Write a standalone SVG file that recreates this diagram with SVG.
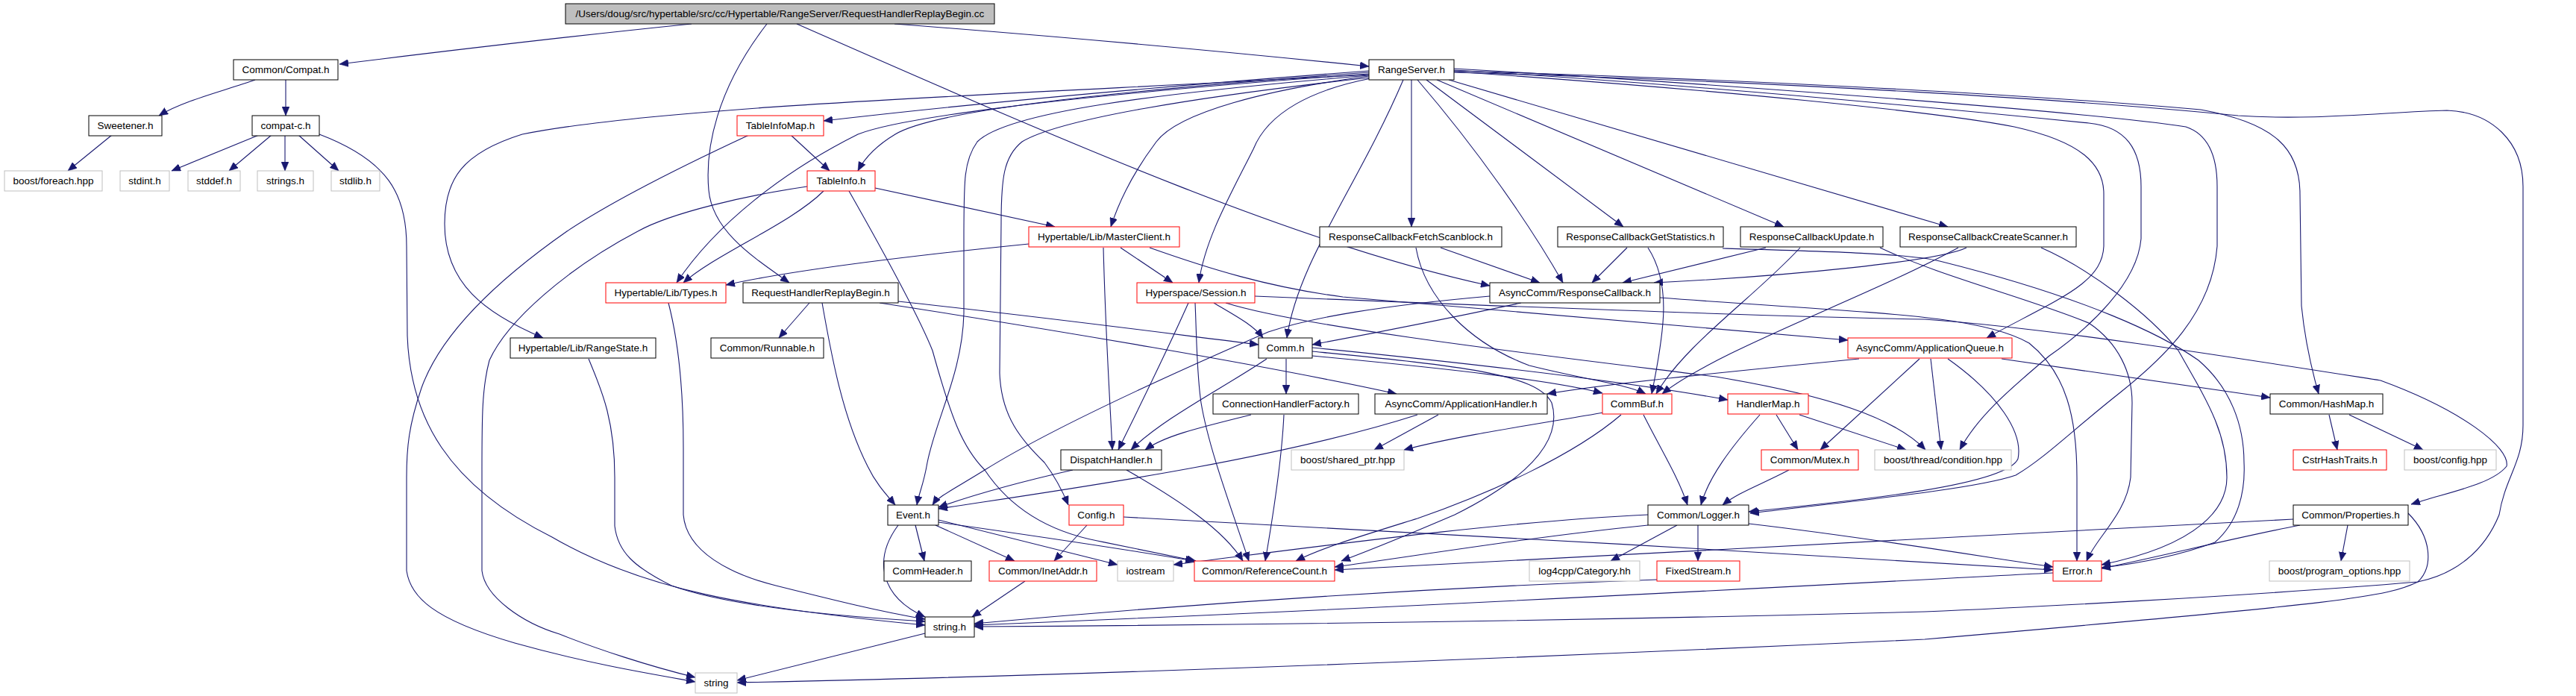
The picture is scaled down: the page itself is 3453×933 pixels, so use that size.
<svg xmlns="http://www.w3.org/2000/svg" width="3453" height="933" viewBox="0 0 3453 933">
<style>
.n rect{fill:#fff;stroke:#000;stroke-width:1}
.r rect{stroke:#f00}
.g rect{stroke:#bfbfbf}
.root rect{fill:#bfbfbf}
text{font-family:"Liberation Sans",Arial,sans-serif;font-size:13.5px;text-anchor:middle;fill:#000}
#edges path{fill:none;stroke:#191970;stroke-width:1.1;marker-end:url(#a)}
</style>
<defs>
<marker id="a" markerWidth="12" markerHeight="10" refX="12" refY="5" orient="auto" markerUnits="userSpaceOnUse"><path d="M0,0 L12,5 L0,10 z" fill="#191970" stroke="#191970" stroke-width="0.5"/></marker>
</defs>
<rect width="3453" height="933" fill="#fff"/>
<g id="edges">
<path d="M927,32 C750,50 600,68 455,86"/>
<path d="M1028,32 C960,120 945,200 950,255 C955,310 1010,345 1058,379"/>
<path d="M1068,32 C1450,200 1750,330 1997,383"/>
<path d="M1199,32 C1500,55 1700,75 1835,89"/>
<path d="M342,107 C300,122 245,135 213,155"/>
<path d="M383,107 L383,155"/>
<path d="M150,181 L91,229"/>
<path d="M347,181 L230,229"/>
<path d="M364,181 L307,229"/>
<path d="M382,181 L382,229"/>
<path d="M400,181 L454,229"/>
<path d="M428,180 C520,215 545,260 545,330 L546,450 C550,560 600,650 740,720 C860,790 1000,815 1240,838"/>
<path d="M1060,181 L1112,229"/>
<path d="M1004,181 C920,220 820,270 760,310 C660,380 590,450 565,520 C548,570 545,600 545,640 L545,765 C550,800 580,830 690,862 C790,890 870,903 932,914"/>
<path d="M1173,252 L1414,304"/>
<path d="M1104,256 C1060,300 960,340 916,379"/>
<path d="M1082,250 C1000,262 900,285 855,310 C760,360 680,430 656,483 C646,520 646,560 646,630 L646,765 C650,800 700,835 750,850 C800,870 870,893 932,908"/>
<path d="M1138,256 C1180,330 1230,420 1250,470 C1275,560 1290,600 1320,630 C1360,690 1420,715 1471,725 C1520,735 1570,745 1603,752"/>
<path d="M1835,95 C1500,120 1250,145 1104,162"/>
<path d="M1835,97 C1450,125 1250,150 1200,180 C1175,195 1160,210 1150,229"/>
<path d="M1835,99 C1400,130 1200,160 1150,180 C1050,230 960,300 907,379"/>
<path d="M1835,100 C1400,125 900,140 700,180 C620,205 596,240 596,300 C596,380 650,420 728,453"/>
<path d="M1835,102 C1700,120 1580,150 1550,190 C1520,230 1500,270 1489,304"/>
<path d="M1838,105 C1760,120 1700,150 1680,200 C1650,260 1615,320 1607,379"/>
<path d="M1835,101 C1550,125 1350,150 1310,190 C1292,215 1292,240 1292,320 L1292,420 C1290,500 1255,560 1243,620 C1238,650 1232,660 1229,677"/>
<path d="M1836,104 C1600,130 1420,160 1370,190 C1345,210 1342,240 1342,300 L1340,500 C1342,560 1370,590 1400,620 C1415,640 1425,660 1432,677"/>
<path d="M1881,107 C1820,250 1740,350 1725,453"/>
<path d="M1892,107 L1892,304"/>
<path d="M1900,107 C1980,200 2050,300 2095,379"/>
<path d="M1912,107 L2176,304"/>
<path d="M1926,107 L2391,304"/>
<path d="M1942,107 L2611,304"/>
<path d="M1949,96 C2300,120 2600,150 2700,170 C2790,190 2820,220 2820,260 L2820,330 C2818,380 2760,400 2663,453"/>
<path d="M1949,94 C2300,115 2650,150 2800,165 C2850,170 2870,200 2870,250 L2870,320 C2865,380 2800,440 2747,477 C2690,525 2650,560 2627,603"/>
<path d="M1949,92 C2300,112 2800,150 2930,170 C2960,180 2972,210 2972,250 L2972,330 C2965,420 2900,480 2841,527 C2780,575 2740,615 2702,637 C2650,655 2500,670 2346,688"/>
<path d="M1949,95 C2300,105 2700,125 2950,147 C3050,165 3083,200 3083,260 L3085,410 C3090,460 3100,500 3108,528"/>
<path d="M1949,97 C2400,110 2800,135 3000,155 C3100,162 3200,150 3280,148 C3340,150 3382,190 3382,250 L3382,570 C3382,620 3358,640 3350,690 C3330,740 3290,770 3241,780 C3000,800 2700,815 2580,820 C2200,830 1800,837 1306,840"/>
<path d="M1627,406 C1650,420 1680,435 1693,453"/>
<path d="M1593,406 C1560,480 1520,560 1499,603"/>
<path d="M1602,406 C1604,450 1604,500 1610,540 C1620,600 1650,680 1674,752"/>
<path d="M1682,397 C2000,410 2400,425 2580,428 C2750,440 3000,480 3191,510 C3300,550 3365,600 3360,625 C3340,650 3280,660 3232,676"/>
<path d="M1643,406 C1750,440 2100,480 2300,505 C2450,530 2540,560 2581,603"/>
<path d="M1379,327 C1200,345 1050,365 973,382"/>
<path d="M1502,332 L1572,379"/>
<path d="M1479,332 C1482,450 1488,540 1491,603"/>
<path d="M1541,332 C1620,360 1700,385 1800,398 C2100,425 2350,445 2477,456"/>
<path d="M1085,406 L1044,453"/>
<path d="M1204,404 C1400,425 1550,445 1687,462"/>
<path d="M1179,406 C1400,440 1700,490 1872,528"/>
<path d="M1102,406 C1115,480 1130,560 1163,625 C1175,650 1190,665 1200,677"/>
<path d="M2039,406 C1950,425 1850,445 1759,462"/>
<path d="M1997,397 C1850,410 1760,425 1700,445 C1550,510 1400,580 1320,630 C1280,655 1258,665 1250,677"/>
<path d="M2225,399 C2500,420 2650,420 2720,460 C2770,500 2784,560 2784,640 L2784,752"/>
<path d="M1931,332 L2064,379"/>
<path d="M1898,332 C1910,400 1970,460 2050,490 C2130,510 2180,515 2206,528"/>
<path d="M2181,332 L2134,379"/>
<path d="M2209,332 C2240,380 2232,440 2214,528"/>
<path d="M2309,333 C2450,337 2560,340 2600,350 C2800,400 2900,450 2947,483 C2990,520 3008,570 3008,620 C3010,660 3000,700 2969,727 C2920,745 2870,755 2817,761"/>
<path d="M2367,332 L2175,379"/>
<path d="M2413,332 C2350,400 2260,460 2220,528"/>
<path d="M2520,332 C2600,370 2720,400 2800,433 C2840,460 2858,500 2858,540 L2856,640 C2850,690 2810,720 2797,752"/>
<path d="M2636,332 C2600,350 2400,370 2217,379"/>
<path d="M2625,332 C2500,400 2300,470 2228,528"/>
<path d="M2736,332 C2800,360 2880,420 2920,470 C2960,540 2985,580 2985,640 C2985,680 2950,730 2817,757"/>
<path d="M1724,481 L1724,528"/>
<path d="M1698,481 C1640,520 1560,560 1516,603"/>
<path d="M1759,466 C2000,490 2200,515 2316,536"/>
<path d="M1759,477 C1950,495 2080,510 2148,527"/>
<path d="M1759,471 C1950,490 2060,500 2080,540 C2095,590 2050,640 1950,690 C1880,720 1830,740 1798,752"/>
<path d="M1677,556 C1600,575 1560,585 1535,603"/>
<path d="M1721,556 C1718,620 1705,700 1696,752"/>
<path d="M1928,556 L1842,603"/>
<path d="M1900,556 C1700,620 1400,660 1258,682"/>
<path d="M1438,630 C1350,650 1300,665 1258,680"/>
<path d="M1510,630 C1580,670 1640,710 1666,752"/>
<path d="M2150,553 C2050,570 1950,585 1882,603"/>
<path d="M2173,556 C2110,610 2000,660 1900,695 C1820,720 1770,735 1737,752"/>
<path d="M2203,556 C2225,600 2250,640 2262,677"/>
<path d="M2381,556 L2410,603"/>
<path d="M2412,556 L2555,603"/>
<path d="M2359,556 C2320,600 2290,640 2280,677"/>
<path d="M2492,481 C2300,500 2150,515 2074,528"/>
<path d="M2573,481 L2440,603"/>
<path d="M2588,481 L2602,603"/>
<path d="M2611,481 C2680,530 2712,580 2705,615 C2690,650 2500,670 2344,686"/>
<path d="M2683,481 L3043,533"/>
<path d="M2398,630 C2360,650 2330,660 2309,677"/>
<path d="M3122,556 L3133,603"/>
<path d="M3149,556 L3248,603"/>
<path d="M2248,704 L2159,752"/>
<path d="M2276,704 L2276,752"/>
<path d="M2209,690 C2000,700 1750,735 1573,757"/>
<path d="M2209,704 C2050,720 1900,745 1789,760"/>
<path d="M2344,702 C2500,720 2650,745 2752,760"/>
<path d="M3147,704 L3138,752"/>
<path d="M3083,704 C3000,720 2900,745 2817,762"/>
<path d="M3074,696 C2800,710 2300,740 1789,764"/>
<path d="M3228,688 C3260,720 3262,760 3241,780 C3200,800 3150,808 2580,857 C2200,875 1500,905 988,915"/>
<path d="M2221,777 C2000,785 1700,800 1306,836"/>
<path d="M2752,768 C2600,775 2000,810 1306,838"/>
<path d="M1457,704 L1413,752"/>
<path d="M1506,693 C1800,710 2400,740 2752,764"/>
<path d="M1374,779 L1303,827"/>
<path d="M1227,704 L1239,752"/>
<path d="M1254,704 L1360,752"/>
<path d="M1258,697 L1498,757"/>
<path d="M1258,700 C1400,720 1500,735 1601,752"/>
<path d="M1204,704 C1170,750 1180,800 1240,827"/>
<path d="M896,406 C910,460 916,520 916,600 L916,690 C920,740 980,770 1040,785 C1120,805 1180,820 1240,830"/>
<path d="M789,481 C805,520 824,560 824,640 L824,705 C828,740 850,760 900,785 C970,810 1100,825 1240,833"/>
<path d="M1240,849 L988,912"/>
</g>
<g id="n_root" class="n root"><rect x="758" y="5" width="575" height="27"/><text x="1045.5" y="23">/Users/doug/src/hypertable/src/cc/Hypertable/RangeServer/RequestHandlerReplayBegin.cc</text></g>
<g id="n_compat" class="n"><rect x="313" y="80" width="140" height="27"/><text x="383" y="98">Common/Compat.h</text></g>
<g id="n_rs" class="n"><rect x="1835" y="80" width="114" height="27"/><text x="1892" y="98">RangeServer.h</text></g>
<g id="n_sweet" class="n"><rect x="119" y="155" width="98" height="27"/><text x="168" y="173">Sweetener.h</text></g>
<g id="n_compatc" class="n"><rect x="338" y="155" width="90" height="27"/><text x="383" y="173">compat-c.h</text></g>
<g id="n_tim" class="n r"><rect x="988" y="155" width="116" height="27"/><text x="1046" y="173">TableInfoMap.h</text></g>
<g id="n_foreach" class="n g"><rect x="6" y="229" width="131" height="27"/><text x="71.5" y="247">boost/foreach.hpp</text></g>
<g id="n_stdint" class="n g"><rect x="161" y="229" width="66" height="27"/><text x="194" y="247">stdint.h</text></g>
<g id="n_stddef" class="n g"><rect x="252" y="229" width="70" height="27"/><text x="287" y="247">stddef.h</text></g>
<g id="n_strings" class="n g"><rect x="345" y="229" width="75" height="27"/><text x="382.5" y="247">strings.h</text></g>
<g id="n_stdlib" class="n g"><rect x="444" y="229" width="65" height="27"/><text x="476.5" y="247">stdlib.h</text></g>
<g id="n_ti" class="n r"><rect x="1082" y="229" width="91" height="27"/><text x="1127.5" y="247">TableInfo.h</text></g>
<g id="n_mc" class="n r"><rect x="1379" y="304" width="202" height="27"/><text x="1480" y="322">Hypertable/Lib/MasterClient.h</text></g>
<g id="n_fetch" class="n"><rect x="1769" y="304" width="244" height="27"/><text x="1891" y="322">ResponseCallbackFetchScanblock.h</text></g>
<g id="n_getstat" class="n"><rect x="2088" y="304" width="222" height="27"/><text x="2199" y="322">ResponseCallbackGetStatistics.h</text></g>
<g id="n_update" class="n"><rect x="2333" y="304" width="191" height="27"/><text x="2428.5" y="322">ResponseCallbackUpdate.h</text></g>
<g id="n_create" class="n"><rect x="2547" y="304" width="236" height="27"/><text x="2665" y="322">ResponseCallbackCreateScanner.h</text></g>
<g id="n_types" class="n r"><rect x="812" y="379" width="161" height="27"/><text x="892.5" y="397">Hypertable/Lib/Types.h</text></g>
<g id="n_rhrb" class="n"><rect x="996" y="379" width="208" height="27"/><text x="1100" y="397">RequestHandlerReplayBegin.h</text></g>
<g id="n_session" class="n r"><rect x="1524" y="379" width="158" height="27"/><text x="1603" y="397">Hyperspace/Session.h</text></g>
<g id="n_rc" class="n"><rect x="1997" y="379" width="228" height="27"/><text x="2111" y="397">AsyncComm/ResponseCallback.h</text></g>
<g id="n_rangestate" class="n"><rect x="684" y="453" width="195" height="27"/><text x="781.5" y="471">Hypertable/Lib/RangeState.h</text></g>
<g id="n_runnable" class="n"><rect x="953" y="453" width="151" height="27"/><text x="1028.5" y="471">Common/Runnable.h</text></g>
<g id="n_comm" class="n"><rect x="1687" y="453" width="72" height="27"/><text x="1723" y="471">Comm.h</text></g>
<g id="n_aq" class="n r"><rect x="2477" y="453" width="220" height="27"/><text x="2587" y="471">AsyncComm/ApplicationQueue.h</text></g>
<g id="n_chf" class="n"><rect x="1626" y="528" width="195" height="27"/><text x="1723.5" y="546">ConnectionHandlerFactory.h</text></g>
<g id="n_ah" class="n"><rect x="1843" y="528" width="231" height="27"/><text x="1958.5" y="546">AsyncComm/ApplicationHandler.h</text></g>
<g id="n_commbuf" class="n r"><rect x="2148" y="528" width="93" height="27"/><text x="2194.5" y="546">CommBuf.h</text></g>
<g id="n_hm" class="n r"><rect x="2316" y="528" width="108" height="27"/><text x="2370" y="546">HandlerMap.h</text></g>
<g id="n_hashmap" class="n"><rect x="3043" y="528" width="151" height="27"/><text x="3118.5" y="546">Common/HashMap.h</text></g>
<g id="n_dh" class="n"><rect x="1422" y="603" width="135" height="27"/><text x="1489.5" y="621">DispatchHandler.h</text></g>
<g id="n_shared" class="n g"><rect x="1731" y="603" width="151" height="27"/><text x="1806.5" y="621">boost/shared_ptr.hpp</text></g>
<g id="n_mutex" class="n r"><rect x="2361" y="603" width="130" height="27"/><text x="2426" y="621">Common/Mutex.h</text></g>
<g id="n_cond" class="n g"><rect x="2513" y="603" width="183" height="27"/><text x="2604.5" y="621">boost/thread/condition.hpp</text></g>
<g id="n_cstr" class="n r"><rect x="3074" y="603" width="125" height="27"/><text x="3136.5" y="621">CstrHashTraits.h</text></g>
<g id="n_confighpp" class="n g"><rect x="3223" y="603" width="123" height="27"/><text x="3284.5" y="621">boost/config.hpp</text></g>
<g id="n_event" class="n"><rect x="1190" y="677" width="68" height="27"/><text x="1224" y="695">Event.h</text></g>
<g id="n_config" class="n r"><rect x="1433" y="677" width="73" height="27"/><text x="1469.5" y="695">Config.h</text></g>
<g id="n_logger" class="n"><rect x="2209" y="677" width="135" height="27"/><text x="2276.5" y="695">Common/Logger.h</text></g>
<g id="n_props" class="n"><rect x="3074" y="677" width="154" height="27"/><text x="3151" y="695">Common/Properties.h</text></g>
<g id="n_commheader" class="n"><rect x="1185" y="752" width="117" height="27"/><text x="1243.5" y="770">CommHeader.h</text></g>
<g id="n_inet" class="n r"><rect x="1326" y="752" width="144" height="27"/><text x="1398" y="770">Common/InetAddr.h</text></g>
<g id="n_iostream" class="n g"><rect x="1498" y="752" width="75" height="27"/><text x="1535.5" y="770">iostream</text></g>
<g id="n_refcount" class="n r"><rect x="1601" y="752" width="188" height="27"/><text x="1695" y="770">Common/ReferenceCount.h</text></g>
<g id="n_log4cpp" class="n g"><rect x="2050" y="752" width="148" height="27"/><text x="2124" y="770">log4cpp/Category.hh</text></g>
<g id="n_fixed" class="n r"><rect x="2221" y="752" width="111" height="27"/><text x="2276.5" y="770">FixedStream.h</text></g>
<g id="n_error" class="n r"><rect x="2752" y="752" width="65" height="27"/><text x="2784.5" y="770">Error.h</text></g>
<g id="n_po" class="n g"><rect x="3042" y="752" width="188" height="27"/><text x="3136" y="770">boost/program_options.hpp</text></g>
<g id="n_stringh" class="n"><rect x="1240" y="827" width="66" height="27"/><text x="1273" y="845">string.h</text></g>
<g id="n_string" class="n g"><rect x="932" y="902" width="56" height="27"/><text x="960" y="920">string</text></g>
</svg>
